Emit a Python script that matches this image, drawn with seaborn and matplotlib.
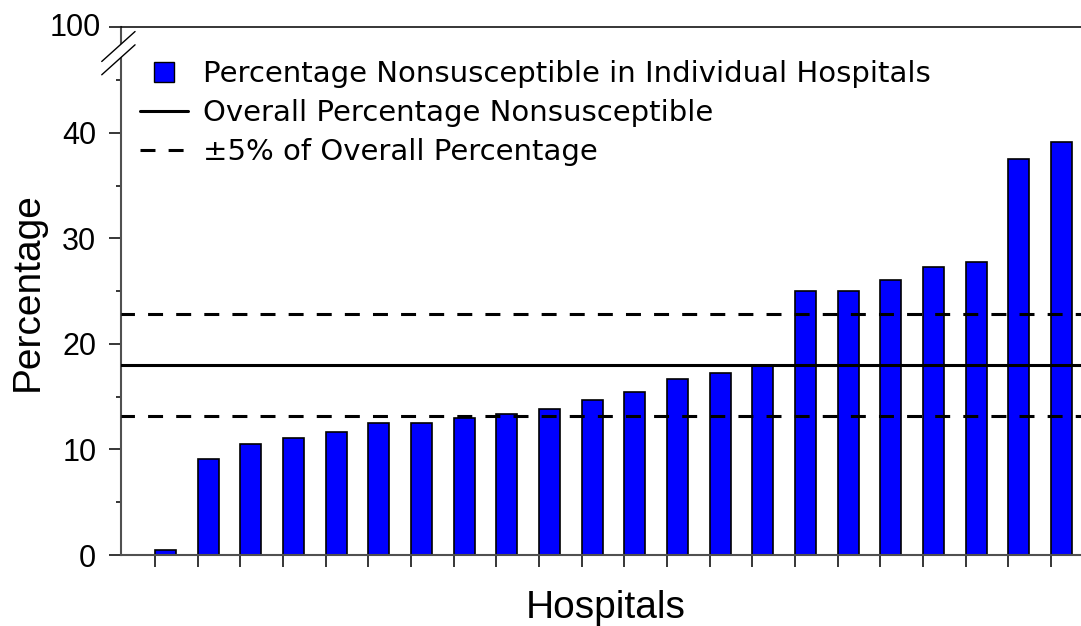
import matplotlib
matplotlib.use("Agg")
import matplotlib.pyplot as plt
import matplotlib.transforms as mtransforms
from matplotlib.lines import Line2D
from matplotlib.patches import Polygon
import numpy as np
import pandas as pd
import seaborn as sns

# ---- data ----
hospitals = [f"H{i+1}" for i in range(22)]
pct_nonsusceptible = [0.5, 9.1, 10.5, 11.1, 11.7, 12.5, 12.5, 13.0, 13.4, 13.8,
                      14.7, 15.4, 16.7, 17.2, 18.0, 25.0, 25.0, 26.1, 27.3, 27.8,
                      37.5, 39.1]
overall_pct = 18.0
lower_pct = 13.2
upper_pct = 22.8
ytick_values = [0, 10, 20, 30, 40, 50]
ytick_labels = ["0", "10", "20", "30", "40", "100"]
legend_labels = ["Percentage Nonsusceptible in Individual Hospitals",
                 "Overall Percentage Nonsusceptible",
                 "\u00b15% of Overall Percentage"]

sns.set_theme(style="white")
plt.rcParams["font.family"] = ["Liberation Sans", "DejaVu Sans"]
plt.rcParams["text.color"] = "black"
plt.rcParams["axes.labelcolor"] = "black"
plt.rcParams["xtick.color"] = "black"
plt.rcParams["ytick.color"] = "black"

df = pd.DataFrame({"Hospital": hospitals, "Percentage": pct_nonsusceptible})

fig = plt.figure(figsize=(10.81, 6.26), dpi=100)
ax = fig.add_axes([0.1117, 0.1134, 1.0 - 0.1117, 0.9564 - 0.1134])

sns.barplot(data=df, x="Hospital", y="Percentage", order=hospitals,
            color="#0000FF", saturation=1, width=0.49,
            edgecolor="black", linewidth=1.2, ax=ax)

ax.axhline(overall_pct, color="black", lw=2.2, zorder=3)
for v in (lower_pct, upper_pct):
    ax.axhline(v, color="black", lw=2.2, linestyle=(0.5, (4.9, 4.3)), zorder=3)

ax.set_xlim(-1.05, 21.46)
ax.set_ylim(0, 50)

n = len(hospitals)
ax.set_xticks(np.arange(n) - 0.245)
ax.set_xticklabels([""] * n)
ax.set_yticks(ytick_values)
ax.set_yticklabels(ytick_labels, fontsize=22)
ax.set_yticks(np.arange(5, 50, 10), minor=True)
ax.tick_params(axis="both", which="major", direction="out", length=8.6, width=1.1,
               color="black", pad=9)
ax.tick_params(axis="y", which="minor", direction="out", length=3.6, width=1.1,
               color="black", left=True)
ax.tick_params(axis="x", bottom=True, top=False)
ax.tick_params(axis="y", left=True, right=False)

# nudge the "100" label (top of the broken axis) like the reference
top_lbl = ax.yaxis.get_major_ticks()[-1].label1
top_lbl.set_transform(top_lbl.get_transform() +
                      mtransforms.ScaledTranslation(0.05, 0.03, fig.dpi_scale_trans))

for s in ("left", "bottom"):
    ax.spines[s].set_color("#505050")
    ax.spines[s].set_linewidth(1.5)
ax.spines["top"].set_color("black")
ax.spines["top"].set_linewidth(1.1)
ax.spines["right"].set_visible(False)

ax.set_xlabel("Hospitals", fontsize=28)
ax.set_ylabel("Percentage", fontsize=28)
ax.xaxis.set_label_coords(0.505, -0.067)
ax.yaxis.set_label_coords(-0.0785, 0.5)

# axis break marks
trans = mtransforms.blended_transform_factory(ax.transAxes, ax.transData)
x0, x1 = -0.0198, 0.0149
gap = Polygon([[x0, 46.76], [x1, 49.6], [x1, 48.34], [x0, 45.5]], closed=True,
              transform=trans, facecolor="white", edgecolor="none",
              clip_on=False, zorder=5)
ax.add_patch(gap)
for ya, yb in ((46.76, 49.6), (45.5, 48.34)):
    ax.add_line(Line2D([x0, x1], [ya, yb], transform=trans, color="black",
                       lw=1.0, clip_on=False, zorder=6))

# legend
handles = [
    Line2D([], [], marker="s", markersize=14, markerfacecolor="#0000FF",
           markeredgecolor="black", markeredgewidth=1.0, linestyle="none"),
    Line2D([], [], color="black", lw=2.2),
    Line2D([], [], color="black", lw=2.2, linestyle=(0, (4.9, 4.3))),
]
ax.legend(handles, legend_labels, loc="upper left", bbox_to_anchor=(0.0201, 0.9375),
          frameon=False, prop={"family": "DejaVu Sans", "size": 21},
          handlelength=1.64, handletextpad=0.51,
          labelspacing=0.37, borderpad=0, borderaxespad=0)

fig.savefig("out.png", dpi=100)
